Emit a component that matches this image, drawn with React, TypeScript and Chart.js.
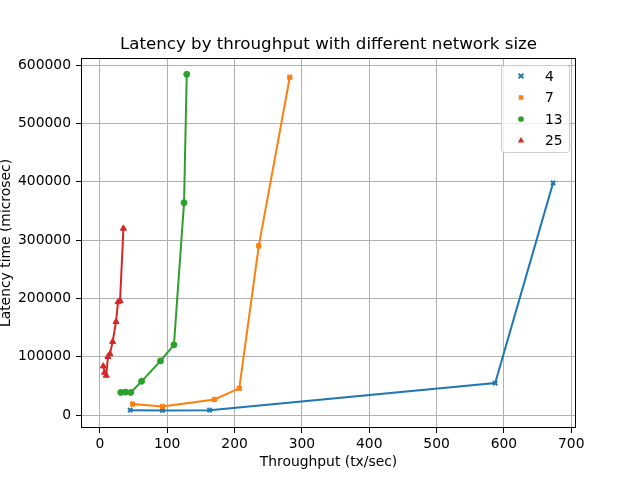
import React, { useEffect, useRef } from "react";
import { Chart, registerables } from "chart.js";

Chart.register(...registerables);

const chartTitle = "Latency by throughput with different network size";
const seriesLabels = ["4", "7", "13", "25"];
const seriesColors = ["#1f77b4", "#ff7f0e", "#2ca02c", "#d62728"];
const seriesMarkers = ["crossRot", "rect", "circle", "triangle"];

const size4X = [45, 93, 163, 587, 673];
const size4Y = [8500, 8000, 8500, 55000, 398000];

const size7X = [48.5, 93, 170, 207, 236, 282];
const size7Y = [19000, 15000, 27000, 46000, 290000, 579000];

const size13X = [31, 38, 46, 62, 90, 110, 125, 129];
const size13Y = [39000, 39500, 39000, 58000, 93000, 120500, 364000, 584000];

const size25X = [5, 7, 9.5, 12, 15, 19, 24, 27, 30, 35];
const size25Y = [84000, 73000, 68000, 100000, 105000, 126000, 160000, 194000, 196000, 320000];

const xTickValues = [0, 100, 200, 300, 400, 500, 600, 700];
const yTickValues = [0, 100000, 200000, 300000, 400000, 500000, 600000];

const allX = [size4X, size7X, size13X, size25X];
const allY = [size4Y, size7Y, size13Y, size25Y];

const FONT = "'DejaVu Sans'";

function drawMarker(ctx: CanvasRenderingContext2D, style: string, x: number, y: number, r: number) {
  ctx.beginPath();
  if (style === "crossRot") {
    const s = r * 0.8;
    ctx.moveTo(x - s, y - s);
    ctx.lineTo(x + s, y + s);
    ctx.moveTo(x + s, y - s);
    ctx.lineTo(x - s, y + s);
    ctx.stroke();
  } else if (style === "rect") {
    ctx.rect(x - r * 0.75, y - r * 0.75, r * 1.5, r * 1.5);
    ctx.fill();
  } else if (style === "circle") {
    ctx.arc(x, y, r * 0.95, 0, Math.PI * 2);
    ctx.fill();
  } else {
    ctx.moveTo(x, y - r);
    ctx.lineTo(x + r * 0.9, y + r * 0.6);
    ctx.lineTo(x - r * 0.9, y + r * 0.6);
    ctx.closePath();
    ctx.fill();
  }
}

const mplPlugin = {
  id: "mplDecor",
  afterDraw(chart: any) {
    const ctx = chart.ctx;
    const a = chart.chartArea;
    ctx.save();
    // frame (all four spines)
    ctx.strokeStyle = "#000";
    ctx.lineWidth = 1;
    ctx.strokeRect(Math.round(a.left) + 0.5, Math.round(a.top) + 0.5, Math.round(a.right - a.left) - 1, Math.round(a.bottom - a.top) - 1);
    // title centered over axes
    ctx.fillStyle = "#000";
    ctx.font = `16.67px ${FONT}`;
    ctx.textAlign = "center";
    ctx.textBaseline = "alphabetic";
    ctx.fillText(chartTitle, (a.left + a.right) / 2, 49);
    // legend box
    const bx = 501, by = 65, bw = 68, bh = 87;
    ctx.fillStyle = "rgba(255,255,255,0.8)";
    ctx.strokeStyle = "#cccccc";
    ctx.beginPath();
    (ctx as any).roundRect(bx + 0.5, by + 0.5, bw, bh, 3);
    ctx.fill();
    ctx.stroke();
    const ds = chart.data.datasets;
    const rowY = [76, 97.5, 119, 140.5];
    ctx.font = `13.89px ${FONT}`;
    ctx.textBaseline = "middle";
    ctx.textAlign = "left";
    for (let i = 0; i < ds.length; i++) {
      const d = ds[i];
      const y = rowY[i];
      const style = d.pointStyle;
      ctx.fillStyle = d.backgroundColor;
      ctx.strokeStyle = d.borderColor;
      ctx.lineWidth = style === "crossRot" ? 2 : 1;
      drawMarker(ctx, style, 521, y, d.pointRadius);
      ctx.fillStyle = "#000";
      ctx.fillText(d.label, 545, y + 1);
    }
    ctx.restore();
  },
};

export default function App() {
  const ref = useRef<HTMLCanvasElement>(null);
  useEffect(() => {
    if (!ref.current) return;
    Chart.defaults.font.family = FONT;
    Chart.defaults.color = "#000";
    const datasets = seriesLabels.map((label, i) => ({
      label,
      data: allX[i].map((x, j) => ({ x, y: allY[i][j] })),
      borderColor: seriesColors[i],
      backgroundColor: seriesColors[i],
      pointBackgroundColor: seriesColors[i],
      pointBorderColor: seriesColors[i],
      pointStyle: seriesMarkers[i],
      pointRadius: seriesMarkers[i] === "triangle" ? 3.5 : 3,
      pointBorderWidth: seriesMarkers[i] === "crossRot" ? 2 : 1,
      borderWidth: 2,
      showLine: true,
      order: seriesLabels.length - i,
    }));
    const chart = new Chart(ref.current, {
      type: "scatter",
      data: { datasets },
      options: {
        responsive: false,
        animation: false,
        layout: { padding: { top: 58, right: 64, bottom: 0, left: 0 } },
        plugins: {
          legend: { display: false },
          tooltip: { enabled: false },
          title: { display: false },
        },
        scales: {
          x: {
            type: "linear",
            min: -28,
            max: 707,
            ticks: {
              font: { size: 13.89 },
              color: "#000",
              padding: 3,
              maxRotation: 0,
              autoSkip: false,
              callback: (v: any) => String(v),
            },
            afterBuildTicks: (s: any) => {
              s.ticks = xTickValues.map((value) => ({ value }));
            },
            grid: { color: "#b0b0b0", lineWidth: 1, tickLength: 5, tickColor: "#000" },
            border: { display: false },
            title: {
              display: true,
              text: "Throughput (tx/sec)",
              font: { size: 13.89 },
              color: "#000",
              padding: { top: 0, bottom: 9 },
            },
            afterFit: (s: any) => {
              s.height = 52;
            },
          },
          y: {
            type: "linear",
            min: -22000,
            max: 612000,
            ticks: {
              font: { size: 13.89 },
              color: "#000",
              padding: 5,
              autoSkip: false,
              callback: (v: any) => String(v),
            },
            afterBuildTicks: (s: any) => {
              s.ticks = yTickValues.map((value) => ({ value }));
            },
            grid: { color: "#b0b0b0", lineWidth: 1, tickLength: 5, tickColor: "#000" },
            border: { display: false },
            title: {
              display: true,
              text: "Latency time (microsec)",
              font: { size: 13.89, lineHeight: 0.9 },
              color: "#000",
              padding: { top: 0, bottom: 0 },
            },
            afterFit: (s: any) => {
              s.width = 81;
            },
          },
        },
      },
      plugins: [mplPlugin],
    } as any);
    return () => chart.destroy();
  }, []);
  return (
    <div style={{ position: "absolute", left: 0, top: 0, width: 640, height: 480, background: "#fff" }}>
      <canvas ref={ref} width={640} height={480} style={{ display: "block" }} />
    </div>
  );
}
